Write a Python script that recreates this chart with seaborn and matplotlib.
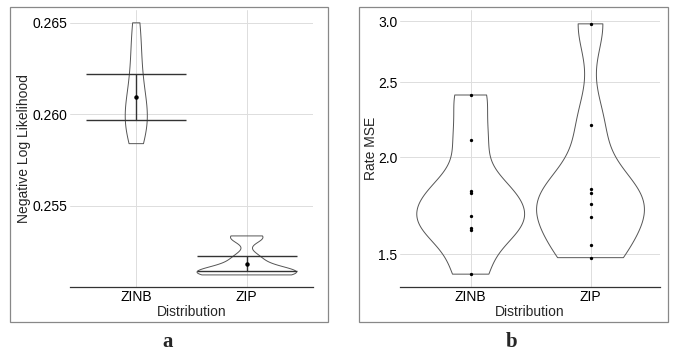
import numpy as np
import pandas as pd
import matplotlib
matplotlib.use("Agg")
import matplotlib.pyplot as plt
import seaborn as sns
from matplotlib.patches import Rectangle
from matplotlib.ticker import NullLocator

# panel a: negative log likelihood per run (estimated from violin shapes)
nll_zinb = [0.2650, 0.2638, 0.2626, 0.2616, 0.2608, 0.2602, 0.2598, 0.2595, 0.2591, 0.2584]
nll_zip = [0.25336, 0.25322, 0.25225, 0.25190, 0.25150, 0.25143, 0.25138, 0.25133, 0.25128, 0.25123]
# mean and error bar ends
nll_mean = [0.26093, 0.25181]
nll_low = [0.25970, 0.25143]
nll_high = [0.26220, 0.25225]

# panel b: rate MSE per run
mse_zinb = [2.408, 2.106, 1.812, 1.802, 1.681, 1.622, 1.612, 1.414]
mse_zip = [2.975, 2.203, 1.820, 1.800, 1.744, 1.676, 1.541, 1.485]

dists = ["ZINB", "ZIP"]

df_a = pd.DataFrame({"Distribution": ["ZINB"] * len(nll_zinb) + ["ZIP"] * len(nll_zip),
                     "nll": nll_zinb + nll_zip})
df_b = pd.DataFrame({"Distribution": ["ZINB"] * len(mse_zinb) + ["ZIP"] * len(mse_zip),
                     "mse": mse_zinb + mse_zip})

sns.set_style("white")
plt.rcParams["font.family"] = ["Liberation Sans", "DejaVu Sans"]

W, H = 674, 351
fig = plt.figure(figsize=(W / 100, H / 100), dpi=100)

def px(x0, y0, x1, y1):
    return [x0 / W, 1 - y1 / H, (x1 - x0) / W, (y1 - y0) / H]

axa = fig.add_axes(px(70, 10, 313, 287))
axb = fig.add_axes(px(400, 10, 660, 287))

line_col = "#555555"
grid_col = "#dddddd"

# ---- panel a (area-scaled violins: ZINB much narrower than ZIP)
for name, w, bw in (("ZINB", 0.2, 0.9), ("ZIP", 0.9, 0.6)):
    sub = df_a[df_a["Distribution"] == name]
    sns.violinplot(data=sub, x="Distribution", y="nll",
                   order=dists, ax=axa, cut=0, inner=None, fill=False, width=w,
                   bw_adjust=bw, color=line_col, linewidth=0.7)
axa.errorbar(x=[0, 1], y=nll_mean,
             yerr=[np.array(nll_mean) - np.array(nll_low), np.array(nll_high) - np.array(nll_mean)],
             fmt="o", ms=2.2, color="black", ecolor="#333333", elinewidth=1.0,
             capsize=36, capthick=1.0, zorder=5)
axa.set_ylim(0.25057, 0.2657)
axa.set_xlim(-0.6, 1.6)
axa.set_yticks([0.255, 0.260, 0.265])
axa.set_yticklabels(["0.255", "0.260", "0.265"])
axa.set_ylabel("Negative Log Likelihood", fontsize=10, labelpad=1)

# ---- panel b
sns.violinplot(data=df_b, x="Distribution", y="mse", order=dists, ax=axb,
               cut=0, inner=None, fill=False, density_norm="width", width=0.9,
               bw_adjust=0.6, log_scale=True, color=line_col, linewidth=0.7)
sns.stripplot(data=df_b, x="Distribution", y="mse", order=dists, ax=axb,
              jitter=False, color="black", size=2.4, zorder=5)
axb.set_ylim(1.361, 3.10)
axb.set_xlim(-0.59, 1.58)
axb.set_yticks([1.5, 2.0, 2.5, 3.0])
axb.set_yticklabels(["1.5", "2.0", "2.5", "3.0"])
axb.yaxis.set_minor_locator(NullLocator())
axb.set_ylabel("Rate MSE", fontsize=10, labelpad=0)

for ax in (axa, axb):
    ax.set_facecolor("white")
    ax.grid(True, color=grid_col, linewidth=0.7)
    ax.set_axisbelow(True)
    for s in ("top", "right", "left"):
        ax.spines[s].set_visible(False)
    ax.spines["bottom"].set_color("#333333")
    ax.spines["bottom"].set_linewidth(0.9)
    ax.tick_params(axis="both", length=0, labelsize=10, colors="black", pad=2)
    ax.set_xlabel("Distribution", fontsize=10, labelpad=1)

# panel frames
for x0, x1 in ((10, 328), (359, 668)):
    fig.add_artist(Rectangle((x0 / W, 1 - 322 / H), (x1 - x0) / W, (322 - 7) / H,
                             transform=fig.transFigure, fill=False,
                             edgecolor="#888888", linewidth=0.9))

fig.text(168 / W, 1 - 342 / H, "a", ha="center", va="center", fontsize=15,
         fontweight="bold", family=["Liberation Serif", "DejaVu Serif"])
fig.text(512 / W, 1 - 342 / H, "b", ha="center", va="center", fontsize=15,
         fontweight="bold", family=["Liberation Serif", "DejaVu Serif"])

fig.savefig("out.png", dpi=100)
